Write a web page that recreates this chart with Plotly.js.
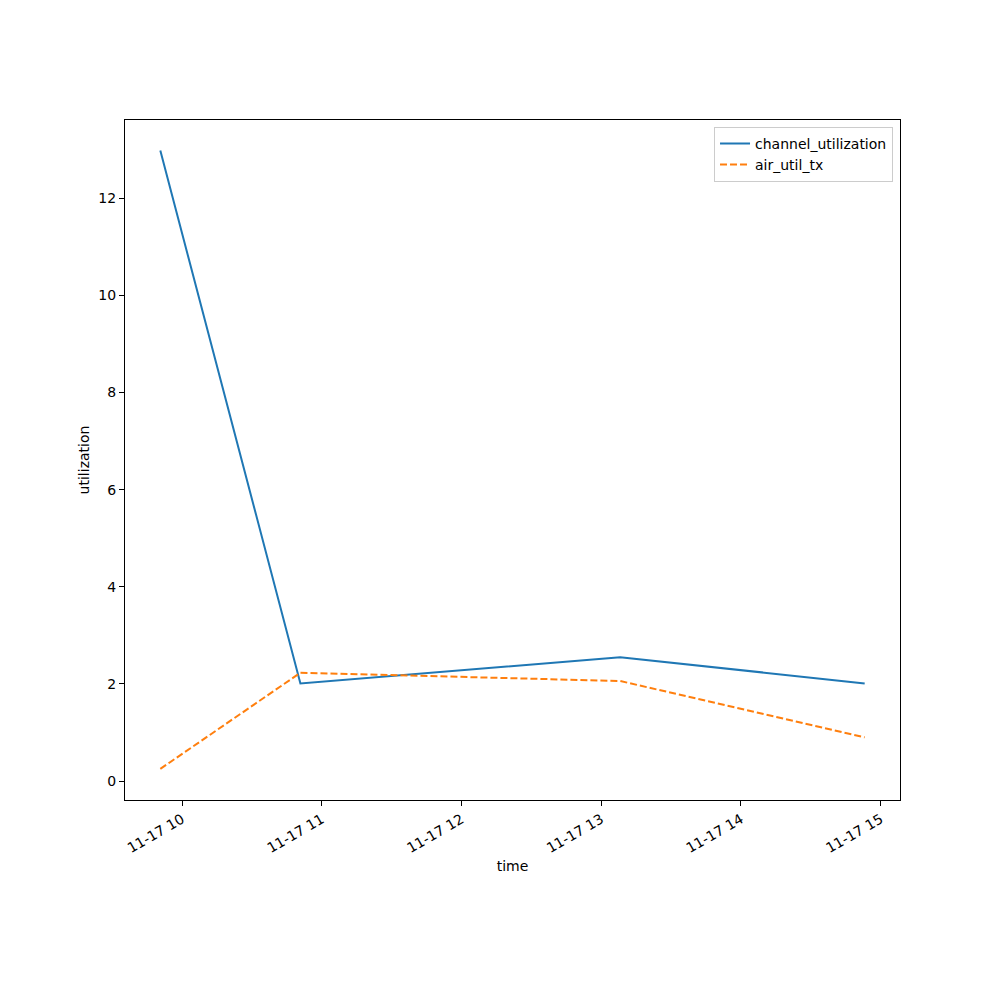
<!DOCTYPE html>
<html>
<head>
<meta charset="utf-8">
<script src="https://cdn.plot.ly/plotly-3.0.1.min.js"></script>
<style>html,body{margin:0;padding:0;background:#fff;}#plot{width:1000px;height:1000px;}</style>
</head>
<body>
<div id="plot"></div>
<script>
const times = ['2023-11-17 09:50:40', '2023-11-17 10:50:50', '2023-11-17 13:08:10', '2023-11-17 14:53:10'];
const channelUtilization = [12.98, 2.01, 2.55, 2.01];
const airUtilTx = [0.25, 2.23, 2.06, 0.90];
const xTickVals = ['2023-11-17 10:00', '2023-11-17 11:00', '2023-11-17 12:00', '2023-11-17 13:00', '2023-11-17 14:00', '2023-11-17 15:00'];
const xTickText = ['11-17 10', '11-17 11', '11-17 12', '11-17 13', '11-17 14', '11-17 15'];
const yTickVals = [0, 2, 4, 6, 8, 10, 12];

const font = {family: 'DejaVu Sans', size: 14, color: '#000'};

const traces = [
  {x: times, y: channelUtilization, type: 'scatter', mode: 'lines', name: 'channel_utilization',
   line: {color: '#1f77b4', width: 2}},
  {x: times, y: airUtilTx, type: 'scatter', mode: 'lines', name: 'air_util_tx',
   line: {color: '#ff7f0e', width: 2, dash: '7px,3px'}}
];

const layout = {
  width: 1000, height: 1000,
  margin: {l: 125, r: 100, t: 120, b: 200},
  paper_bgcolor: '#fff', plot_bgcolor: '#fff',
  font: font,
  showlegend: true,
  legend: {x: 0.991, y: 0.99, xanchor: 'right', yanchor: 'top', bgcolor: 'rgba(255,255,255,0.8)',
           bordercolor: '#cccccc', borderwidth: 1, font: font, tracegroupgap: 0},
  xaxis: {
    type: 'date',
    range: ['2023-11-17 09:35:30', '2023-11-17 15:08:20'],
    tickvals: xTickVals, ticktext: xTickText, tickangle: -30,
    ticks: 'outside', ticklen: 5, tickwidth: 1, tickcolor: '#000',
    showline: true, linecolor: '#000', linewidth: 1, mirror: true,
    showgrid: false, zeroline: false,
    title: {text: 'time', font: font, standoff: 6},
    tickfont: font
  },
  yaxis: {
    range: [-0.39, 13.61],
    tickvals: yTickVals,
    ticks: 'outside', ticklen: 5, tickwidth: 1, tickcolor: '#000',
    showline: true, linecolor: '#000', linewidth: 1, mirror: true,
    showgrid: false, zeroline: false,
    title: {text: 'utilization', font: font, standoff: 5},
    tickfont: font
  }
};

Plotly.newPlot('plot', traces, layout, {displayModeBar: false, staticPlot: true});
</script>
</body>
</html>
